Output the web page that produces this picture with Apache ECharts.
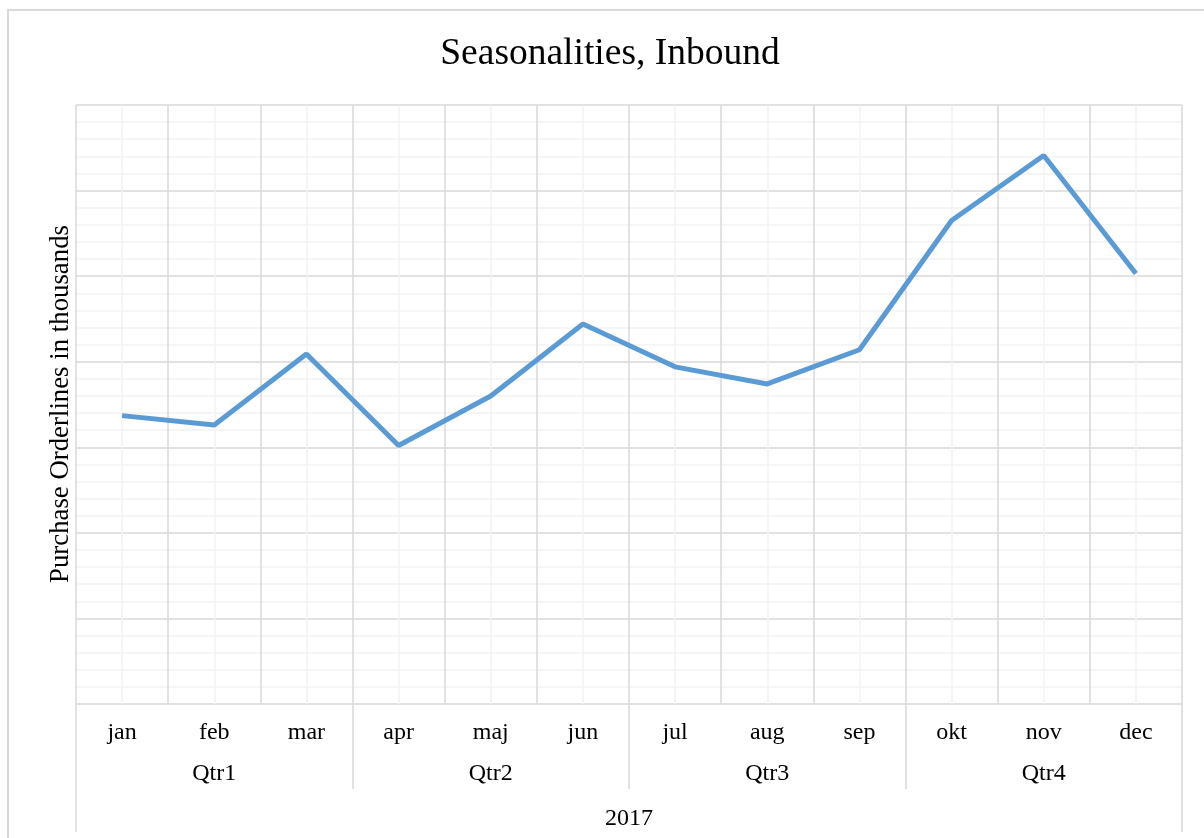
<!DOCTYPE html>
<html>
<head>
<meta charset="utf-8">
<title>Seasonalities, Inbound</title>
<script src="https://cdn.jsdelivr.net/npm/echarts@6/dist/echarts.min.js"></script>
<style>
  html, body { margin: 0; padding: 0; background: #ffffff; }
  #chart { width: 1204px; height: 838px; }
</style>
</head>
<body>
<div id="chart"></div>
<script>
// Monthly inbound purchase orderlines (thousands), grouped by quarter and year
const months = ['jan', 'feb', 'mar', 'apr', 'maj', 'jun', 'jul', 'aug', 'sep', 'okt', 'nov', 'dec'];
const quarters = ['Qtr1', 'Qtr2', 'Qtr3', 'Qtr4'];
const years = ['2017'];
const orderlines = [33.7, 32.6, 40.9, 30.2, 36.0, 44.4, 39.4, 37.4, 41.4, 56.5, 64.1, 50.3];

const serif = '"Liberation Serif", "Times New Roman", serif';
const majorGrid = '#d9d9d9';
const minorGrid = '#f2f2f2';

const chart = echarts.init(document.getElementById('chart'), null, { renderer: 'canvas' });

chart.setOption({
  animation: false,
  backgroundColor: '#ffffff',
  grid: { left: 76, top: 105, width: 1106, height: 599, containLabel: false },
  graphic: [
    {
      type: 'rect',
      z: -10,
      silent: true,
      shape: { x: 8, y: 10, width: 1300, height: 1000 },
      style: { fill: 'none', stroke: majorGrid, lineWidth: 2 }
    },
    {
      type: 'text',
      x: 610, y: 54,
      style: {
        text: 'Seasonalities, Inbound',
        font: '37.5px ' + serif,
        fill: '#000000',
        textAlign: 'center',
        textVerticalAlign: 'middle'
      }
    },
    {
      type: 'text',
      x: 61, y: 404,
      rotation: Math.PI / 2,
      style: {
        text: 'Purchase Orderlines in thousands',
        font: '26.8px ' + serif,
        fill: '#000000',
        textAlign: 'center',
        textVerticalAlign: 'middle'
      }
    }
  ],
  xAxis: [
    {
      // month labels
      type: 'category',
      data: months,
      position: 'bottom',
      boundaryGap: true,
      axisLine: { show: false },
      axisTick: { show: false },
      splitLine: { show: false },
      axisLabel: { interval: 0, margin: 17, fontFamily: serif, fontSize: 24, color: '#000000' }
    },
    {
      // vertical grid: month boundaries (major) and month centres (minor)
      type: 'value',
      min: 0, max: 12, interval: 1,
      position: 'bottom',
      axisLine: { show: false },
      axisTick: { show: false },
      axisLabel: { show: false },
      splitLine: { show: true, lineStyle: { color: majorGrid, width: 1.5 } },
      minorTick: { show: false, splitNumber: 2 },
      minorSplitLine: { show: true, lineStyle: { color: minorGrid, width: 1.5 } }
    },
    {
      // quarter labels and separators
      type: 'category',
      data: quarters,
      position: 'bottom',
      axisLine: { show: false },
      axisTick: { show: true, interval: 0, length: 85, lineStyle: { color: majorGrid, width: 1.5 } },
      splitLine: { show: false },
      axisLabel: { interval: 0, margin: 58, fontFamily: serif, fontSize: 24, color: '#000000' }
    },
    {
      // year label and outer separators
      type: 'category',
      data: years,
      position: 'bottom',
      axisLine: { show: false },
      axisTick: { show: true, interval: 0, length: 128, lineStyle: { color: majorGrid, width: 1.5 } },
      splitLine: { show: false },
      axisLabel: { interval: 0, margin: 103, fontFamily: serif, fontSize: 24, color: '#000000' }
    }
  ],
  yAxis: {
    type: 'value',
    min: 0, max: 70, interval: 10,
    axisLine: { show: false },
    axisTick: { show: false },
    axisLabel: { show: false },
    splitLine: { show: true, lineStyle: { color: majorGrid, width: 1.5 } },
    minorTick: { show: false, splitNumber: 5 },
    minorSplitLine: { show: true, lineStyle: { color: minorGrid, width: 1.5 } }
  },
  series: [
    {
      type: 'line',
      xAxisIndex: 0,
      yAxisIndex: 0,
      data: orderlines,
      showSymbol: false,
      symbol: 'none',
      lineStyle: { color: '#5b9bd5', width: 5 },
      z: 5
    }
  ]
});
</script>
</body>
</html>
